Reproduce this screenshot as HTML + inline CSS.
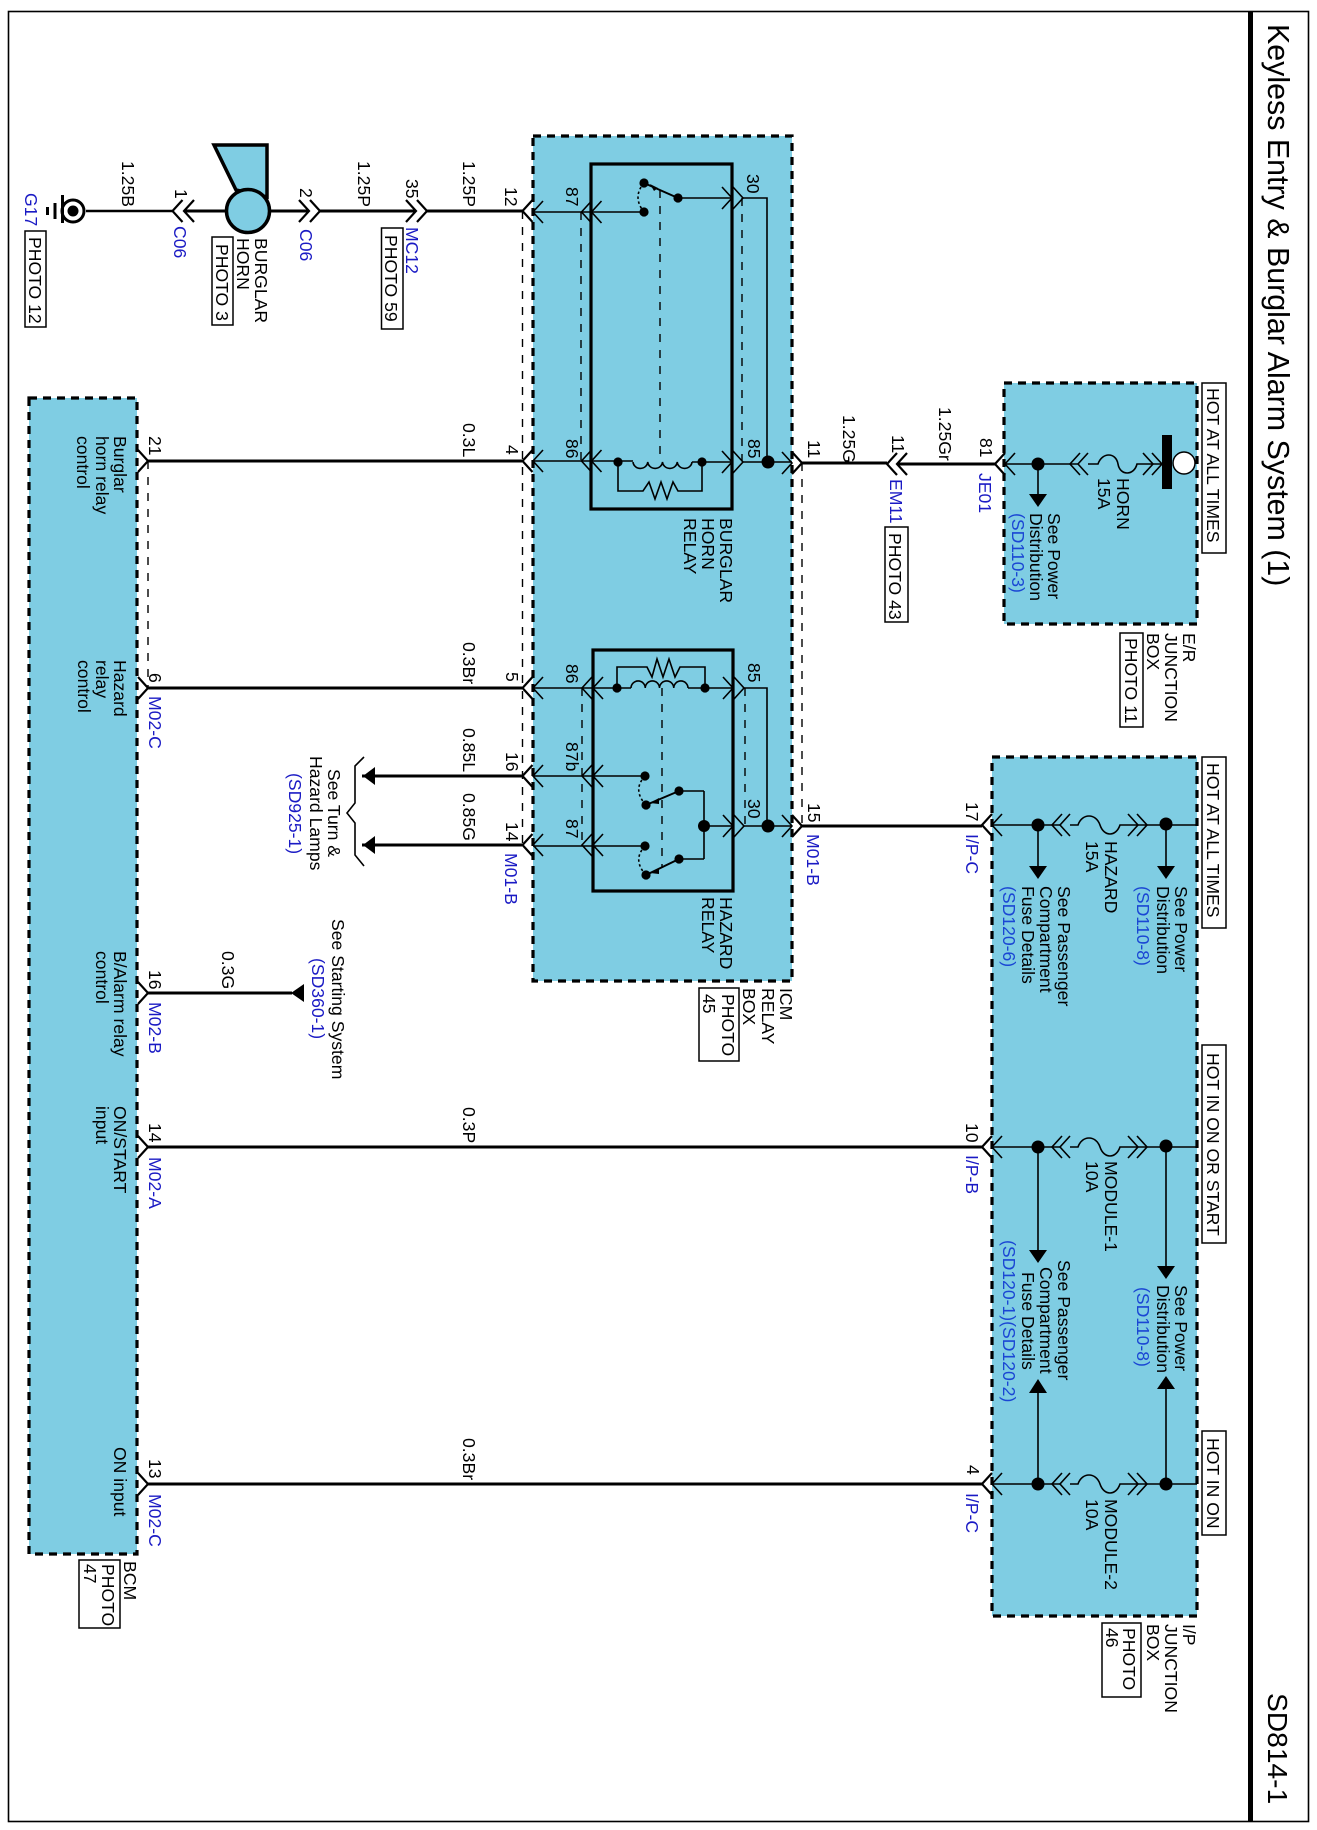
<!DOCTYPE html>
<html><head><meta charset="utf-8"><style>
html,body{margin:0;padding:0;background:#fff}
svg{display:block}
text{font-family:"Liberation Sans",sans-serif;font-size:17.6px;fill:#000}
.b{fill:#1a1ac4}.r{fill:#1a46d4}
.w{fill:none;stroke:#000;stroke-width:3}
.n{fill:none;stroke:#000;stroke-width:1.6}
.d{fill:none;stroke:#000;stroke-width:1.4;stroke-dasharray:8 8}
.box{fill:#7fcde3;stroke:#000;stroke-width:3.2;stroke-dasharray:8 6}
.lb{fill:#fff;stroke:#000;stroke-width:1.5}
</style></head><body>
<svg width="1317" height="1830" viewBox="0 0 1317 1830" xmlns="http://www.w3.org/2000/svg">
<defs>
<path id="l" d="M10-11 0 0 10 11" fill="none" stroke="#000" stroke-width="1.6"/>
<path id="r" d="M-10-11 0 0-10 11" fill="none" stroke="#000" stroke-width="1.6"/>
<path id="L" d="M10-11 0 0 10 11" fill="none" stroke="#000" stroke-width="2.2"/>
<path id="R" d="M-10-11 0 0-10 11" fill="none" stroke="#000" stroke-width="2.2"/>
</defs>
<rect width="1317" height="1830" fill="#fff"/>
<rect x="8.5" y="11.5" width="1300" height="1810" fill="none" stroke="#000" stroke-width="1.6"/>
<rect x="1248" y="11" width="5" height="1811" fill="#000"/>

<!-- boxes -->
<rect class="box" x="533" y="136" width="259" height="845"/>
<rect class="box" x="29" y="398" width="108" height="1156"/>
<rect class="box" x="1004" y="383" width="193" height="241"/>
<rect class="box" x="992" y="757" width="205" height="859"/>

<!-- thin dashed connector ties -->
<path class="d" d="M522.5 211V845M148 461V688M802 463V826M581 212V461M742 198V461M660 190V462M582 688V845M745 688V826M662 688V868"/>

<!-- left chain -->
<path class="w" style="stroke-width:2.4" d="M86 211H172"/>
<path class="w" d="M184 211H226M270 211H309M320 211H416M427 211H522.5M148 461H522M148 688H522M362 776H522M362 845H522M148 993H292M148 1147H982M148 1484H982M802 826H982M802 463H887M897 464H995"/>
<use href="#L" x="172.5" y="211"/><use href="#L" x="184" y="211"/>
<use href="#R" x="309" y="211"/><use href="#R" x="320" y="211"/>
<use href="#R" x="416" y="211"/><use href="#R" x="427" y="211"/>
<use href="#L" x="887" y="464"/><use href="#L" x="897" y="464"/>
<!-- ground -->
<circle cx="73" cy="211" r="11" fill="#fff" stroke="#000" stroke-width="3"/><circle cx="73" cy="211" r="5.5" fill="#000"/>
<path d="M62.5 195V223M55 203V219M47.5 207V215" stroke="#000" fill="none" stroke-width="3"/>
<!-- horn -->
<path d="M214 145H267V197L236 190Z" fill="#7fcde3" stroke="#000" stroke-width="3.5"/>
<circle cx="248" cy="211" r="21.5" fill="#7fcde3" stroke="#000" stroke-width="3.5"/>

<!-- pin chevrons -->
<use href="#L" x="522.5" y="211"/><use href="#L" x="522.5" y="461"/><use href="#L" x="522.5" y="688"/><use href="#L" x="522.5" y="776"/><use href="#L" x="522.5" y="845"/>
<use href="#R" x="802" y="463"/><use href="#R" x="802" y="826"/>
<use href="#R" x="148" y="461"/><use href="#R" x="148" y="688"/><use href="#R" x="148" y="993"/><use href="#R" x="148" y="1147"/><use href="#R" x="148" y="1484"/>
<use href="#L" x="982" y="825"/><use href="#L" x="982" y="1147"/><use href="#L" x="982" y="1484"/><use href="#L" x="995" y="464"/>
<use href="#l" x="1005" y="464"/><use href="#l" x="992" y="825"/><use href="#l" x="992" y="1147"/><use href="#l" x="992" y="1484"/>

<!-- relay 1 -->
<rect x="591" y="164" width="141" height="345" fill="none" stroke="#000" stroke-width="3.2"/>
<path class="n" d="M533 212H644M533 461H633M692 462H732M678 198H732M743 198H767V462M743 462H792"/>
<use href="#l" x="533" y="212"/><use href="#l" x="581.5" y="212"/><use href="#l" x="591.5" y="212"/>
<use href="#l" x="533" y="461"/><use href="#l" x="581.5" y="461"/><use href="#l" x="591.5" y="461"/>
<use href="#r" x="732" y="198"/><use href="#r" x="743" y="198"/><use href="#r" x="732" y="462"/><use href="#r" x="743" y="462"/><use href="#r" x="792" y="463"/>
<path class="n" d="M633 462a7.4 7 0 0 0 14.75 0a7.4 7 0 0 0 14.75 0a7.4 7 0 0 0 14.75 0a7.4 7 0 0 0 14.75 0"/>
<path class="n" d="M618 462V491H643L649 482 655 499 661 482 667 499 673 482 678 491H702V462"/>
<path d="M644 183L678 198" stroke="#000" stroke-width="2" fill="none"/>
<path d="M644 183Q632 197 644 212" fill="none" stroke="#000" stroke-width="1.6" stroke-dasharray="2.5 2.5"/>
<g fill="#000"><circle cx="644" cy="183" r="4.6"/><circle cx="644" cy="212" r="4.6"/><circle cx="678" cy="198" r="4.6"/><circle cx="618" cy="462" r="4.6"/><circle cx="702" cy="462" r="4.6"/><circle cx="768" cy="462" r="6.5"/>
<path d="M650 184L658 188 654 191Z"/></g>

<!-- relay 2 -->
<rect x="593" y="650" width="140" height="241" fill="none" stroke="#000" stroke-width="3.2"/>
<path class="n" d="M533 688H631M688 688H733M744 688H767V826M645 776H533M645 846H533M704 791V859M679 791H704M679 859H704M704 826H733M744 826H792"/>
<use href="#l" x="533" y="688"/><use href="#l" x="582" y="688"/><use href="#l" x="593" y="688"/>
<use href="#l" x="533" y="776"/><use href="#l" x="582" y="776"/><use href="#l" x="593" y="776"/>
<use href="#l" x="533" y="845"/><use href="#l" x="582" y="845"/><use href="#l" x="593" y="845"/>
<use href="#r" x="733" y="688"/><use href="#r" x="744" y="688"/><use href="#r" x="733" y="826"/><use href="#r" x="744" y="826"/><use href="#r" x="792" y="826"/>
<path class="n" d="M631 688a7.1 7 0 0 1 14.25 0a7.1 7 0 0 1 14.25 0a7.1 7 0 0 1 14.25 0a7.1 7 0 0 1 14.25 0"/>
<path class="n" d="M617 688V667H647L652 677 657 659 663 677 669 659 675 677 680 667H705V688"/>
<path d="M679 791L646 805M679 859L646 875" stroke="#000" stroke-width="2" fill="none"/>
<path d="M645 776Q632 790 646 805M645 846Q632 860 646 875" fill="none" stroke="#000" stroke-width="1.6" stroke-dasharray="2.5 2.5"/>
<g fill="#000"><circle cx="645" cy="776" r="4.6"/><circle cx="646" cy="805" r="4.6"/><circle cx="645" cy="846" r="4.6"/><circle cx="646" cy="875" r="4.6"/><circle cx="679" cy="791" r="4.6"/><circle cx="679" cy="859" r="4.6"/><circle cx="617" cy="688" r="4.6"/><circle cx="705" cy="688" r="4.6"/><circle cx="704" cy="826" r="6"/><circle cx="768" cy="826" r="6.5"/>
<path d="M650 803L659 798 659 804ZM650 873L659 868 659 874Z"/></g>

<!-- E/R junction -->
<path class="n" d="M1005 464H1078M1088 464h10c4-12 18-12 20 0s16 12 19 0h25M1038 464V494"/>
<use href="#l" x="1070" y="464"/><use href="#l" x="1078" y="464"/><use href="#r" x="1153" y="464"/><use href="#r" x="1162" y="464"/>
<rect x="1162" y="435" width="10" height="54" fill="#000"/>
<circle cx="1184" cy="463" r="11" fill="#fff" stroke="#000" stroke-width="1.5"/>
<circle cx="1038" cy="464" r="6.5" fill="#000"/>
<path d="M1029 494H1047L1038 507Z" fill="#000"/>

<!-- I/P fuses -->
<path class="n" d="M992 825H1060M1070 825h8c4-12 18-12 22 0s16 12 20 0h27H1197M1038 825V866M1166 825V866"/>
<path class="n" d="M992 1147H1060M1070 1147h8c4-12 18-12 22 0s16 12 20 0h27H1197M1038 1147V1251M1166 1147V1267"/>
<path class="n" d="M992 1484H1060M1070 1484h8c4-12 18-12 22 0s16 12 20 0h27H1197M1038 1484V1393M1166 1484V1389"/>
<use href="#l" x="1052" y="825"/><use href="#l" x="1060" y="825"/><use href="#r" x="1138" y="825"/><use href="#r" x="1147" y="825"/>
<use href="#l" x="1052" y="1147"/><use href="#l" x="1060" y="1147"/><use href="#r" x="1138" y="1147"/><use href="#r" x="1147" y="1147"/>
<use href="#l" x="1052" y="1484"/><use href="#l" x="1060" y="1484"/><use href="#r" x="1138" y="1484"/><use href="#r" x="1147" y="1484"/>
<g fill="#000">
<circle cx="1038" cy="825" r="6.5"/><circle cx="1166" cy="824" r="6.5"/><circle cx="1038" cy="1147" r="6.5"/><circle cx="1166" cy="1146" r="6.5"/><circle cx="1038" cy="1484" r="6.5"/><circle cx="1166" cy="1484" r="6.5"/>
<path d="M1029 866H1047L1038 879ZM1157 866H1175L1166 879ZM1029 1250H1047L1038 1263ZM1157 1266H1175L1166 1279ZM1029 1393H1047L1038 1379ZM1157 1389H1175L1166 1376Z"/>
<path d="M363 776L375 767V785ZM363 845L375 836V854ZM291 993L304 984V1002Z"/>
</g>
<path class="n" d="M364 757L355 766V803L347 813 355 823V855L364 866"/>

<!-- label boxes -->
<rect class="lb" x="25" y="231" width="21" height="96"/>
<rect class="lb" x="212" y="237" width="21" height="88"/>
<rect class="lb" x="381.5" y="228" width="21.5" height="101"/>
<rect class="lb" x="885" y="527" width="23" height="95"/>
<rect class="lb" x="1120" y="633" width="23" height="94"/>
<rect class="lb" x="1202" y="383" width="24" height="170"/>
<rect class="lb" x="1202" y="757" width="24" height="171"/>
<rect class="lb" x="1202" y="1045" width="24" height="198"/>
<rect class="lb" x="1202" y="1431" width="24" height="104"/>
<rect class="lb" x="1102" y="1623" width="39" height="74"/>
<rect class="lb" x="699" y="988" width="40" height="73"/>
<rect class="lb" x="79" y="1560" width="41" height="68"/>

<!-- text -->
<g>
<text transform="translate(1268 24)rotate(90)" style="font-size:30.4px">Keyless Entry &amp; Burglar Alarm System (1)</text>
<text transform="translate(1268 1693)rotate(90)" style="font-size:28.2px">SD814-1</text>

<text class="b" transform="translate(25 193)rotate(90)">G17</text>
<text transform="translate(29 237)rotate(90)">PHOTO 12</text>
<text transform="translate(122 161)rotate(90)">1.25B</text>
<text transform="translate(175 189)rotate(90)">1</text>
<text class="b" transform="translate(174 226)rotate(90)">C06</text>
<text transform="translate(255 238)rotate(90)">BURGLAR</text>
<text transform="translate(237 238)rotate(90)">HORN</text>
<text transform="translate(216 244)rotate(90)">PHOTO 3</text>
<text transform="translate(300 188)rotate(90)">2</text>
<text class="b" transform="translate(300 229)rotate(90)">C06</text>
<text transform="translate(358 161)rotate(90)">1.25P</text>
<text transform="translate(406 179)rotate(90)">35</text>
<text class="b" transform="translate(406 227)rotate(90)">MC12</text>
<text transform="translate(385 235)rotate(90)">PHOTO 59</text>
<text transform="translate(463 161)rotate(90)">1.25P</text>
<text transform="translate(505 187)rotate(90)">12</text>
<text transform="translate(463 423)rotate(90)">0.3L</text>
<text transform="translate(506 445)rotate(90)">4</text>
<text transform="translate(149 436)rotate(90)">21</text>
<text transform="translate(114 436)rotate(90)">Burglar</text>
<text transform="translate(96 436)rotate(90)">horn relay</text>
<text transform="translate(77 436)rotate(90)">control</text>

<text transform="translate(566 187)rotate(90)">87</text>
<text transform="translate(747 174)rotate(90)">30</text>
<text transform="translate(566 439)rotate(90)">86</text>
<text transform="translate(748 439)rotate(90)">85</text>
<text transform="translate(808 440)rotate(90)">11</text>
<text transform="translate(720 518)rotate(90)">BURGLAR</text>
<text transform="translate(702 518)rotate(90)">HORN</text>
<text transform="translate(684 518)rotate(90)">RELAY</text>

<text transform="translate(506 672)rotate(90)">5</text>
<text transform="translate(506 752)rotate(90)">16</text>
<text transform="translate(506 822)rotate(90)">14</text>
<text class="b" transform="translate(505 853)rotate(90)">M01-B</text>
<text transform="translate(566 664)rotate(90)">86</text>
<text transform="translate(566 742)rotate(90)">87b</text>
<text transform="translate(566 819)rotate(90)">87</text>
<text transform="translate(748 663)rotate(90)">85</text>
<text transform="translate(748 799)rotate(90)">30</text>
<text transform="translate(808 803)rotate(90)">15</text>
<text class="b" transform="translate(807 834)rotate(90)">M01-B</text>
<text transform="translate(720 897)rotate(90)">HAZARD</text>
<text transform="translate(702 897)rotate(90)">RELAY</text>
<text transform="translate(780 988)rotate(90)">ICM</text>
<text transform="translate(762 988)rotate(90)">RELAY</text>
<text transform="translate(743 988)rotate(90)">BOX</text>
<text transform="translate(722 994)rotate(90)">PHOTO</text>
<text transform="translate(703 994)rotate(90)">45</text>

<text transform="translate(843 415)rotate(90)">1.25G</text>
<text transform="translate(939 407)rotate(90)">1.25Gr</text>
<text transform="translate(892 435)rotate(90)">11</text>
<text transform="translate(980 438)rotate(90)">81</text>
<text class="b" transform="translate(979 473)rotate(90)">JE01</text>
<text class="b" transform="translate(890 479)rotate(90)">EM11</text>
<text transform="translate(889 533)rotate(90)">PHOTO 43</text>
<text transform="translate(1048 513)rotate(90)">See Power</text>
<text transform="translate(1030 513)rotate(90)">Distribution</text>
<text class="r" transform="translate(1012 513)rotate(90)">(SD110-3)</text>
<text transform="translate(1117 478)rotate(90)">HORN</text>
<text transform="translate(1098 478)rotate(90)">15A</text>
<text transform="translate(1207 388)rotate(90)">HOT AT ALL TIMES</text>
<text transform="translate(1183 633)rotate(90)">E/R</text>
<text transform="translate(1165 633)rotate(90)">JUNCTION</text>
<text transform="translate(1147 633)rotate(90)">BOX</text>
<text transform="translate(1125 638)rotate(90)">PHOTO 11</text>

<text transform="translate(966 802)rotate(90)">17</text>
<text class="b" transform="translate(966 834)rotate(90)">I/P-C</text>
<text transform="translate(966 1123)rotate(90)">10</text>
<text class="b" transform="translate(966 1155)rotate(90)">I/P-B</text>
<text transform="translate(967 1465)rotate(90)">4</text>
<text class="b" transform="translate(966 1493)rotate(90)">I/P-C</text>
<text transform="translate(1175 886)rotate(90)">See Power</text>
<text transform="translate(1157 886)rotate(90)">Distribution</text>
<text class="r" transform="translate(1137 886)rotate(90)">(SD110-8)</text>
<text transform="translate(1105 841)rotate(90)">HAZARD</text>
<text transform="translate(1086 841)rotate(90)">15A</text>
<text transform="translate(1058 886)rotate(90)">See Passenger</text>
<text transform="translate(1040 886)rotate(90)">Compartment</text>
<text transform="translate(1022 886)rotate(90)">Fuse Details</text>
<text class="r" transform="translate(1003 886)rotate(90)">(SD120-6)</text>
<text transform="translate(1207 763)rotate(90)">HOT AT ALL TIMES</text>
<text transform="translate(1207 1053)rotate(90)">HOT IN ON OR START</text>
<text transform="translate(1105 1161)rotate(90)">MODULE-1</text>
<text transform="translate(1086 1161)rotate(90)">10A</text>
<text transform="translate(1175 1285)rotate(90)">See Power</text>
<text transform="translate(1157 1285)rotate(90)">Distribution</text>
<text class="r" transform="translate(1137 1287)rotate(90)">(SD110-8)</text>
<text transform="translate(1058 1260)rotate(90)">See Passenger</text>
<text transform="translate(1040 1267)rotate(90)">Compartment</text>
<text transform="translate(1022 1272)rotate(90)">Fuse Details</text>
<text class="r" transform="translate(1003 1240)rotate(90)">(SD120-1)(SD120-2)</text>
<text transform="translate(1105 1499)rotate(90)">MODULE-2</text>
<text transform="translate(1086 1499)rotate(90)">10A</text>
<text transform="translate(1207 1438)rotate(90)">HOT IN ON</text>
<text transform="translate(1183 1624)rotate(90)">I/P</text>
<text transform="translate(1165 1624)rotate(90)">JUNCTION</text>
<text transform="translate(1147 1624)rotate(90)">BOX</text>
<text transform="translate(1123 1628)rotate(90)">PHOTO</text>
<text transform="translate(1106 1628)rotate(90)">46</text>

<text transform="translate(114 660)rotate(90)">Hazard</text>
<text transform="translate(96 660)rotate(90)">relay</text>
<text transform="translate(78 660)rotate(90)">control</text>
<text transform="translate(149 673)rotate(90)">6</text>
<text class="b" transform="translate(149 696)rotate(90)">M02-C</text>
<text transform="translate(463 642)rotate(90)">0.3Br</text>
<text transform="translate(463 728)rotate(90)">0.85L</text>
<text transform="translate(463 793)rotate(90)">0.85G</text>
<text transform="translate(328 769)rotate(90)">See Turn &amp;</text>
<text transform="translate(310 756)rotate(90)">Hazard Lamps</text>
<text class="b" transform="translate(289 773)rotate(90)">(SD925-1)</text>
<text transform="translate(332 919)rotate(90)">See Starting System</text>
<text class="b" transform="translate(312 958)rotate(90)">(SD360-1)</text>
<text transform="translate(222 951)rotate(90)">0.3G</text>
<text transform="translate(149 970)rotate(90)">16</text>
<text class="b" transform="translate(149 1002)rotate(90)">M02-B</text>
<text transform="translate(114 951)rotate(90)">B/Alarm relay</text>
<text transform="translate(96 951)rotate(90)">control</text>
<text transform="translate(114 1106)rotate(90)">ON/START</text>
<text transform="translate(96 1106)rotate(90)">input</text>
<text transform="translate(149 1123)rotate(90)">14</text>
<text class="b" transform="translate(149 1157)rotate(90)">M02-A</text>
<text transform="translate(463 1107)rotate(90)">0.3P</text>
<text transform="translate(149 1459)rotate(90)">13</text>
<text class="b" transform="translate(149 1494)rotate(90)">M02-C</text>
<text transform="translate(114 1447)rotate(90)">ON input</text>
<text transform="translate(463 1438)rotate(90)">0.3Br</text>
<text transform="translate(124 1561)rotate(90)">BCM</text>
<text transform="translate(102 1564)rotate(90)">PHOTO</text>
<text transform="translate(84 1564)rotate(90)">47</text>
</g>
</svg>
</body></html>
